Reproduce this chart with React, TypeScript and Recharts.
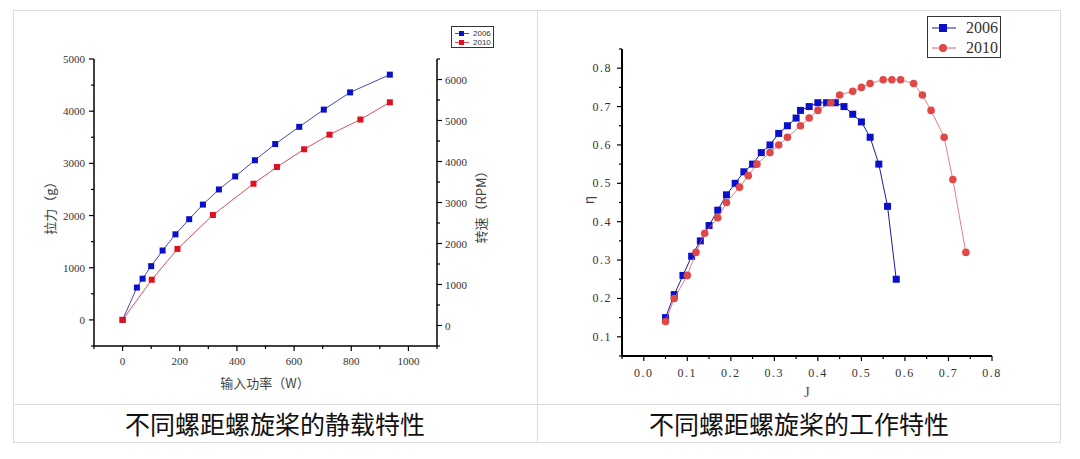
import React from "react";
import { ScatterChart, Scatter, XAxis, YAxis } from "recharts";

// 静载特性: 输入功率 (W) vs 拉力 (g)
const power2006 = [0, 50, 70, 100, 140, 185, 233, 281, 337, 394, 463, 534, 618, 704, 796, 935];
const thrust2006 = [0, 620, 790, 1030, 1330, 1640, 1930, 2210, 2500, 2750, 3060, 3370, 3700, 4030, 4360, 4700];
const power2010 = [0, 102, 192, 316, 458, 540, 635, 724, 832, 935];
const thrust2010 = [0, 770, 1360, 2010, 2610, 2930, 3270, 3550, 3840, 4170];

// 工作特性: J vs η
const j2006 = [0.05, 0.07, 0.09, 0.11, 0.13, 0.15, 0.17, 0.19, 0.21, 0.23, 0.25, 0.27, 0.29, 0.31, 0.33, 0.35, 0.36, 0.38, 0.4, 0.42, 0.44, 0.46, 0.48, 0.5, 0.52, 0.54, 0.56, 0.58];
const eta2006 = [0.15, 0.21, 0.26, 0.31, 0.35, 0.39, 0.43, 0.47, 0.5, 0.53, 0.55, 0.58, 0.6, 0.63, 0.65, 0.67, 0.69, 0.7, 0.71, 0.71, 0.71, 0.7, 0.68, 0.66, 0.62, 0.55, 0.44, 0.25];
const j2010 = [0.05, 0.07, 0.1, 0.12, 0.14, 0.17, 0.19, 0.22, 0.24, 0.26, 0.29, 0.31, 0.33, 0.36, 0.38, 0.4, 0.43, 0.45, 0.48, 0.5, 0.52, 0.55, 0.57, 0.59, 0.62, 0.64, 0.66, 0.69, 0.71, 0.74];
const eta2010 = [0.14, 0.2, 0.26, 0.32, 0.37, 0.41, 0.45, 0.49, 0.52, 0.55, 0.58, 0.6, 0.62, 0.65, 0.67, 0.69, 0.71, 0.73, 0.74, 0.75, 0.76, 0.77, 0.77, 0.77, 0.76, 0.73, 0.69, 0.62, 0.51, 0.32];

// ticks (all) and the labelled (major) ones
const powerTicks = [-100, 0, 100, 200, 300, 400, 500, 600, 700, 800, 900, 1000, 1100];
const powerLabels = [0, 200, 400, 600, 800, 1000];
const thrustTicks = [-500, 0, 500, 1000, 1500, 2000, 2500, 3000, 3500, 4000, 4500, 5000];
const thrustLabels = [0, 1000, 2000, 3000, 4000, 5000];
const rpmTicks = [-500, 0, 500, 1000, 1500, 2000, 2500, 3000, 3500, 4000, 4500, 5000, 5500, 6000, 6500];
const rpmLabels = [0, 1000, 2000, 3000, 4000, 5000, 6000];
const jTicks = [-0.05, 0, 0.05, 0.1, 0.15, 0.2, 0.25, 0.3, 0.35, 0.4, 0.45, 0.5, 0.55, 0.6, 0.65, 0.7, 0.75, 0.8];
const jLabels = [0, 0.1, 0.2, 0.3, 0.4, 0.5, 0.6, 0.7, 0.8];
const etaTicks = [0.05, 0.1, 0.15, 0.2, 0.25, 0.3, 0.35, 0.4, 0.45, 0.5, 0.55, 0.6, 0.65, 0.7, 0.75, 0.8, 0.85];
const etaLabels = [0.1, 0.2, 0.3, 0.4, 0.5, 0.6, 0.7, 0.8];

const zip = (xs: number[], ys: number[]) => xs.map((x, i) => ({ x, y: ys[i] }));

const BLUE = "#0a10c8";
const RED_L = "#e0101e";
const RED_R = "#e04848";
const CJK = '"Noto Sans CJK SC", sans-serif';
const SERIF = '"Liberation Serif", serif';

function makeTick(side: "bottom" | "left" | "right", labels: number[], fmt: (v: number) => string, opts: { size: number; gap: number; spacing?: number }) {
  return (props: any) => {
    const { x, y, payload } = props;
    const v = payload.value;
    const major = labels.some((l) => Math.abs(l - v) < 1e-9);
    const len = major ? 5 : 3;
    const text = major ? fmt(v) : "";
    const common = { fontFamily: SERIF, fontSize: opts.size, fill: "#333", letterSpacing: opts.spacing ?? 0 };
    if (side === "bottom") {
      return (
        <g>
          <line x1={x} y1={y} x2={x} y2={y + len} stroke="#000" strokeWidth={1.2} />
          {text && (
            <text x={x} y={y + opts.gap} textAnchor="middle" dominantBaseline="central" {...common}>
              {text}
            </text>
          )}
        </g>
      );
    }
    const dir = side === "left" ? -1 : 1;
    return (
      <g>
        <line x1={x} y1={y} x2={x + dir * len} y2={y} stroke="#000" strokeWidth={1.2} />
        {text && (
          <text x={x + dir * opts.gap} y={y} textAnchor={side === "left" ? "end" : "start"} dominantBaseline="central" {...common}>
            {text}
          </text>
        )}
      </g>
    );
  };
}

const square = (size: number, color: string) => (p: any) =>
  <rect x={p.cx - size / 2} y={p.cy - size / 2} width={size} height={size} fill={color} />;
const circle = (r: number, color: string) => (p: any) => <circle cx={p.cx} cy={p.cy} r={r} fill={color} />;

function StaticChart() {
  const axis = { stroke: "#000", strokeWidth: 1.5 };
  return (
    <ScatterChart width={523} height={392} margin={{ top: 48, right: 40, bottom: 17, left: 20 }}>
      <XAxis
        type="number"
        dataKey="x"
        domain={[-100, 1100]}
        ticks={powerTicks}
        allowDataOverflow
        height={40}
        axisLine={axis}
        tickLine={false}
        tickSize={0}
        tickMargin={0}
        tick={makeTick("bottom", powerLabels, (v) => String(v), { size: 11, gap: 15 })}
        interval={0}
      />
      <YAxis
        yAxisId="thrust"
        type="number"
        dataKey="y"
        domain={[-500, 5000]}
        ticks={thrustTicks}
        allowDataOverflow
        width={60}
        axisLine={axis}
        tickLine={false}
        tickSize={0}
        tickMargin={0}
        tick={makeTick("left", thrustLabels, (v) => String(v), { size: 11, gap: 9 })}
        interval={0}
      />
      <YAxis
        yAxisId="rpm"
        orientation="right"
        type="number"
        domain={[-500, 6500]}
        ticks={rpmTicks}
        allowDataOverflow
        width={60}
        axisLine={axis}
        tickLine={false}
        tickSize={0}
        tickMargin={0}
        tick={makeTick("right", rpmLabels, (v) => String(v), { size: 11, gap: 8 })}
        interval={0}
      />
      <Scatter
        yAxisId="thrust"
        data={zip(power2006, thrust2006)}
        line={{ stroke: "#1a1a9a", strokeWidth: 0.8 }}
        lineType="joint"
        shape={square(6, BLUE)}
        isAnimationActive={false}
      />
      <Scatter
        yAxisId="thrust"
        data={zip(power2010, thrust2010)}
        line={{ stroke: "#d02030", strokeWidth: 0.8 }}
        lineType="joint"
        shape={square(6, RED_L)}
        isAnimationActive={false}
      />
    </ScatterChart>
  );
}

function WorkChart() {
  const axis = { stroke: "#000", strokeWidth: 2 };
  return (
    <ScatterChart width={520} height={392} margin={{ top: 38, right: 69, bottom: 17, left: 21 }}>
      <XAxis
        type="number"
        dataKey="x"
        domain={[-0.05, 0.8]}
        ticks={jTicks}
        allowDataOverflow
        height={30}
        axisLine={axis}
        tickLine={false}
        tickSize={0}
        tickMargin={0}
        tick={makeTick("bottom", jLabels, (v) => v.toFixed(1), { size: 12, gap: 17, spacing: 1.5 })}
        interval={0}
      />
      <YAxis
        type="number"
        dataKey="y"
        domain={[0.05, 0.85]}
        ticks={etaTicks}
        allowDataOverflow
        width={60}
        axisLine={axis}
        tickLine={false}
        tickSize={0}
        tickMargin={0}
        tick={makeTick("left", etaLabels, (v) => v.toFixed(1), { size: 12, gap: 10, spacing: 1.5 })}
        interval={0}
      />
      <Scatter
        data={zip(j2006, eta2006)}
        line={{ stroke: "#1a1aa0", strokeWidth: 1 }}
        lineType="joint"
        shape={square(7, BLUE)}
        isAnimationActive={false}
      />
      <Scatter
        data={zip(j2010, eta2010)}
        line={{ stroke: "#e06060", strokeWidth: 0.8 }}
        lineType="joint"
        shape={circle(3.8, RED_R)}
        isAnimationActive={false}
      />
    </ScatterChart>
  );
}

const abs = (left: number, top: number, extra: React.CSSProperties = {}): React.CSSProperties => ({
  position: "absolute",
  left,
  top,
  ...extra,
});

function VLabel({ cx, cy, text, size = 13 }: { cx: number; cy: number; text: string; size?: number }) {
  return (
    <div
      style={abs(cx, cy, {
        transform: "translate(-50%, -50%) rotate(-90deg)",
        fontFamily: CJK,
        fontSize: size,
        color: "#444",
        whiteSpace: "nowrap",
      })}
    >
      {text}
    </div>
  );
}

export default function App() {
  const border = "1px solid #dcdcdc";
  return (
    <div style={abs(0, 0, { width: 1080, height: 459, background: "#fff", overflow: "hidden" })}>
      {/* table frame */}
      <div style={abs(13, 10, { width: 1048, height: 433, border, boxSizing: "border-box" })} />
      <div style={abs(537, 10, { width: 0, height: 433, borderLeft: border })} />
      <div style={abs(13, 404, { width: 1048, height: 0, borderTop: border })} />

      <div style={abs(14, 11)}>
        <StaticChart />
      </div>
      <div style={abs(541, 11)}>
        <WorkChart />
      </div>

      {/* left chart titles */}
      <div style={abs(265, 382, { transform: "translate(-50%, -50%)", fontFamily: CJK, fontSize: 13, color: "#444", whiteSpace: "nowrap" })}>
        输入功率（W）
      </div>
      <VLabel cx={49} cy={205} text="拉力（g）" />
      <VLabel cx={480} cy={204} text="转速（RPM）" />

      {/* left legend */}
      <div style={abs(451, 26, { width: 43, height: 22, border: "1px solid #333", boxSizing: "border-box", fontFamily: '"Liberation Sans", sans-serif', fontSize: 8, color: "#333" })}>
        {[{ c: BLUE, lc: "#1a1a9a", t: "2006" }, { c: RED_L, lc: "#d02030", t: "2010" }].map((it, i) => (
          <div key={it.t} style={abs(2, 2 + i * 9, { display: "flex", alignItems: "center", height: 9 })}>
            <svg width={16} height={9}>
              <line x1={1} y1={4.5} x2={15} y2={4.5} stroke={it.lc} strokeWidth={0.8} />
              <rect x={5} y={2} width={5} height={5} fill={it.c} />
            </svg>
            <span style={{ marginLeft: 3, lineHeight: "9px" }}>{it.t}</span>
          </div>
        ))}
      </div>

      {/* right chart titles */}
      <div style={abs(807, 392, { transform: "translate(-50%, -50%)", fontFamily: SERIF, fontSize: 15, color: "#555" })}>J</div>
      <VLabel cx={588} cy={200} text="η" size={14} />

      {/* right legend */}
      <div style={abs(927, 16, { width: 74, height: 42, border: "1px solid #333", boxSizing: "border-box", fontFamily: SERIF, fontSize: 16, color: "#333" })}>
        {[
          { t: "2006", lc: "#1a1aa0", mark: <rect x={8} y={4} width={8} height={8} fill={BLUE} /> },
          { t: "2010", lc: "#e06060", mark: <circle cx={12} cy={8} r={4} fill={RED_R} /> },
        ].map((it, i) => (
          <div key={it.t} style={abs(3, 2 + i * 20, { display: "flex", alignItems: "center", height: 18 })}>
            <svg width={26} height={16}>
              <line x1={1} y1={8} x2={25} y2={8} stroke={it.lc} strokeWidth={1} />
              {it.mark}
            </svg>
            <span style={{ marginLeft: 9, lineHeight: "18px" }}>{it.t}</span>
          </div>
        ))}
      </div>

      {/* captions */}
      <div style={abs(275, 423, { transform: "translate(-50%, -50%)", fontFamily: CJK, fontSize: 25, color: "#111", whiteSpace: "nowrap" })}>
        不同螺距螺旋桨的静载特性
      </div>
      <div style={abs(799, 423, { transform: "translate(-50%, -50%)", fontFamily: CJK, fontSize: 25, color: "#111", whiteSpace: "nowrap" })}>
        不同螺距螺旋桨的工作特性
      </div>
    </div>
  );
}
